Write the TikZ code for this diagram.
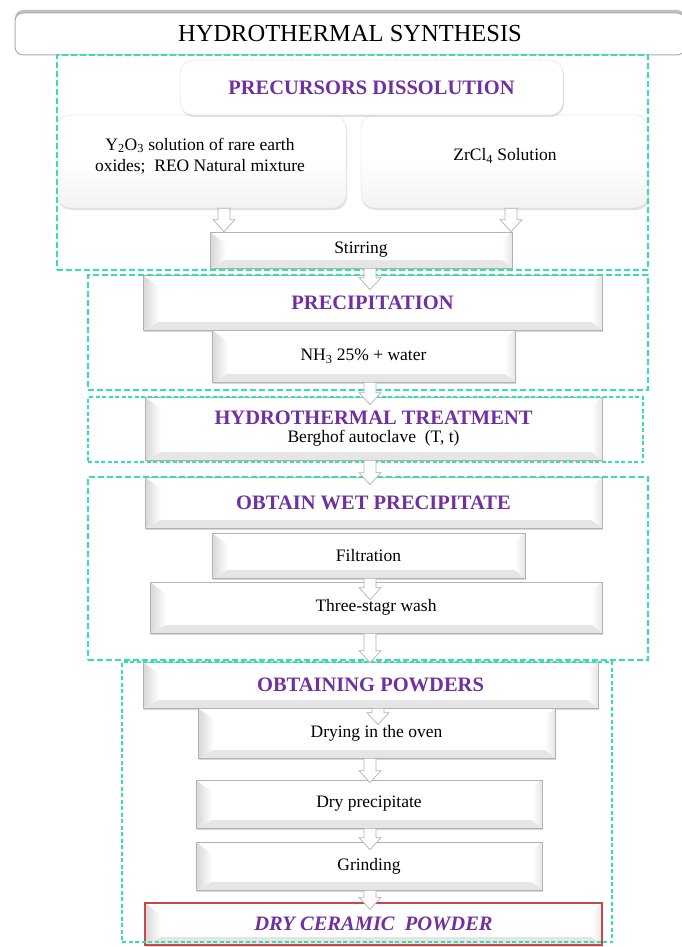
\documentclass[tikz,border=0pt]{standalone}
\usepackage{fontspec}
\setmainfont{Liberation Serif}
\usetikzlibrary{shadows,calc}
\definecolor{hpurple}{HTML}{7030A0}
\definecolor{hgreen}{HTML}{33E0B0}
\definecolor{hred}{HTML}{C84848}
\newcommand\bodyf{\fontsize{17.5}{21}\selectfont}
\newcommand\headf{\fontsize{20.5}{24}\selectfont\bfseries}
\newcommand\harr[3]{\draw[harrowst] let \p1=(#1), \p2=(#2) in
  ({\x1-6pt},\y1) -- ({\x1-6pt},{\y2-#3+12pt}) -- ({\x1-11pt},{\y2-#3+12pt}) --
  (\x1,{\y2-#3}) -- ({\x1+11pt},{\y2-#3+12pt}) -- ({\x1+6pt},{\y2-#3+12pt}) --
  ({\x1+6pt},\y1) -- cycle;}
\tikzset{
  bev/.style={draw=gray!60, line width=0.7pt, fill=white, inner sep=0pt,
    align=center, font=\bodyf,
    drop shadow={shadow xshift=1.2pt, shadow yshift=-1.8pt, opacity=0.45, fill=gray!70},
    path picture={
      \path (path picture bounding box.north west) coordinate (pNW)
            (path picture bounding box.south west) coordinate (pSW)
            (path picture bounding box.south east) coordinate (pSE)
            (path picture bounding box.north east) coordinate (pNE);
      \shade[left color=gray!32, right color=white] (pNW) -- ([shift={(16pt,-12pt)}]pNW)
          -- ([shift={(16pt,8pt)}]pSW) -- (pSW) -- cycle;
      \fill[gray!20] (pSW) -- ([shift={(16pt,8pt)}]pSW) -- ([shift={(-10pt,8pt)}]pSE) -- (pSE) -- cycle;
      \shade[left color=white, right color=gray!20] (pSE) -- ([shift={(-10pt,8pt)}]pSE)
          -- ([shift={(-10pt,-8pt)}]pNE) -- (pNE) -- cycle;
    }},
  rbox/.style={rounded corners=13pt, draw=gray!22, line width=0.5pt, align=center, font=\bodyf,
    top color=white, bottom color=gray!10, middle color=white, inner sep=0pt,
    drop shadow={shadow xshift=1pt, shadow yshift=-2pt, opacity=0.3, fill=gray!80}},
  heading/.style={text=hpurple, font=\headf},
  frameA/.style={draw=hgreen, line width=1.6pt, dash pattern=on 6pt off 3pt, inner sep=0pt},
  frameB/.style={draw=hgreen, line width=1.2pt, dash pattern=on 4pt off 2.5pt, inner sep=0pt},
  harrowst/.style={draw=gray!60, fill=white, line width=0.7pt, line join=miter}
}
\begin{document}
\begin{tikzpicture}[x=1pt, y=-1pt]
\useasboundingbox (0,0) rectangle (681,947);
\fill[white] (0,0) rectangle (681,947);

% title
\node[rounded corners=8pt, draw=gray!65, line width=1pt, fill=white,
      minimum width=670pt, minimum height=42pt, inner sep=0pt,
      font=\fontsize{24.5}{28}\selectfont,
      drop shadow={shadow xshift=0pt, shadow yshift=3pt, opacity=0.5, fill=gray}]
      (title) at (350,34) {HYDROTHERMAL SYNTHESIS};

% precursors block
\node[rbox, minimum width=289pt, minimum height=93pt] (lb) at (201.5,161.5) {};
\node[rbox, minimum width=287pt, minimum height=93pt] (rb) at (504.5,161.5) {};
\node[rbox, top color=white, bottom color=white, minimum width=383pt, minimum height=55pt,
      heading] (pd) at (371.5,87.5) {PRECURSORS DISSOLUTION};
\node[font=\bodyf, align=center, inner sep=0pt] (lbt) at (200,156)
  {Y\textsubscript{2}O\textsubscript{3} solution of rare earth\\oxides;~ REO Natural mixture};
\node[font=\bodyf, inner sep=0pt] (rbt) at (505,156) {ZrCl\textsubscript{4} Solution};
\node[bev, minimum width=302pt, minimum height=36pt] (stir) at (361,250) {Stirring};

% precipitation
\node[bev, minimum width=459pt, minimum height=55pt, heading] (prec) at (372.5,302.5) {PRECIPITATION};
\node[bev, minimum width=303pt, minimum height=52pt] (nh3) at (363.5,356)
  {NH\textsubscript{3} 25\% + water};

% hydrothermal treatment
\node[bev, minimum width=457pt, minimum height=63pt] (ht) at (373.5,428.5)
  {\textcolor{hpurple}{\headf HYDROTHERMAL TREATMENT}\\[-3pt]Berghof autoclave~ (T, t)};

% wet precipitate
\node[bev, minimum width=457pt, minimum height=51pt, heading] (wet) at (373.5,502.5) {OBTAIN WET PRECIPITATE};
\node[bev, minimum width=313pt, minimum height=45pt] (filt) at (368.5,555.5) {Filtration};
\node[bev, minimum width=452pt, minimum height=51pt] (wash) at (376,607.5) {Three-stagr wash};

% powders
\node[bev, minimum width=455pt, minimum height=46pt, heading] (pow) at (370.5,685) {OBTAINING POWDERS};
\node[bev, minimum width=357pt, minimum height=50pt] (dry) at (376.5,733) {Drying in the oven};
\node[bev, minimum width=346pt, minimum height=48pt] (dp) at (369,804) {Dry precipitate};
\node[bev, minimum width=346pt, minimum height=48pt] (grind) at (369,866) {Grinding};
\node[bev, draw=hred, line width=1.3pt, minimum width=457pt, minimum height=42pt,
      text=hpurple, font=\headf\itshape] (final) at (373.5,924) {DRY CERAMIC~ POWDER};

% dashed frames
\node[frameA, minimum width=591pt, minimum height=215pt] (f1) at (352.5,162.5) {};
\node[frameA, minimum width=560pt, minimum height=115pt] (f2) at (368,332.5) {};
\node[frameB, minimum width=555pt, minimum height=65pt] (f3) at (365.5,429.5) {};
\node[frameA, minimum width=560pt, minimum height=183pt] (f4) at (368,568.5) {};
\node[frameB, minimum width=490pt, minimum height=280pt] (f5) at (367,802) {};

% arrows
\coordinate (ax1) at (224,0);
\coordinate (ax2) at (511,0);
\coordinate (mx) at (370,0);
\coordinate (mx2) at (378,0);
\harr{ax1 |- lb.south}{ax1 |- stir.north}{0pt}
\harr{ax2 |- rb.south}{ax2 |- stir.north}{0pt}
\harr{mx |- stir.south}{mx |- prec.north}{15pt}
\harr{mx |- nh3.south}{mx |- ht.north}{8pt}
\harr{mx |- ht.south}{mx |- wet.north}{8pt}
\harr{mx |- filt.south}{mx |- wash.north}{18pt}
\harr{mx |- wash.south}{mx |- pow.north}{1pt}
\harr{mx2 |- pow.south}{mx2 |- dry.north}{17pt}
\harr{mx |- dry.south}{mx |- dp.north}{3pt}
\harr{mx |- dp.south}{mx |- grind.north}{8pt}
\harr{mx |- grind.south}{mx |- final.north}{7pt}
\end{tikzpicture}
\end{document}
